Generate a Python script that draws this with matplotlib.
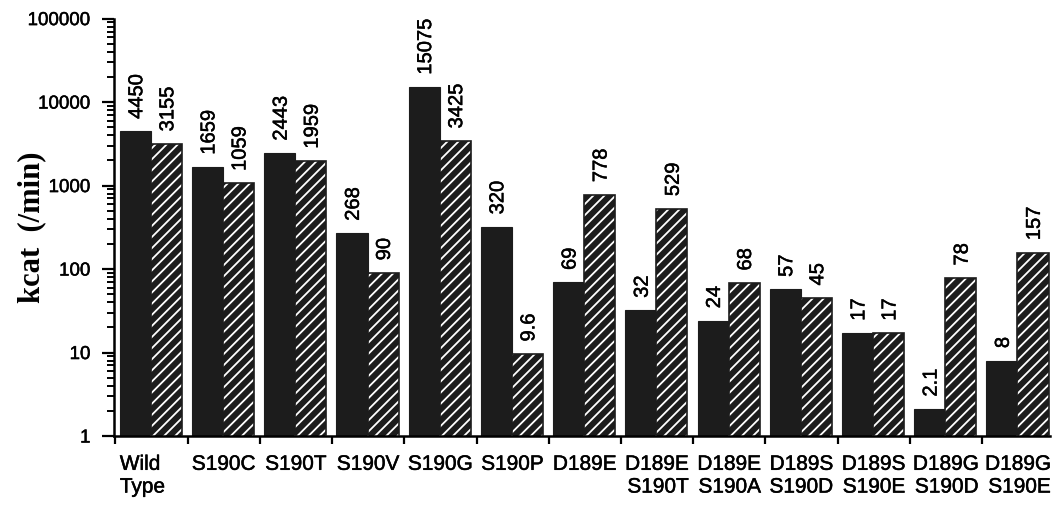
import matplotlib
matplotlib.use("Agg")
import matplotlib.pyplot as plt
import matplotlib.patheffects as pe
import numpy as np
from matplotlib.ticker import LogLocator, FixedLocator, NullFormatter

# Enzyme variants and turnover numbers (kcat, per minute)
variants = ["Wild\nType", "S190C", "S190T", "S190V", "S190G", "S190P", "D189E",
            "D189E\nS190T", "D189E\nS190A", "D189S\nS190D", "D189S\nS190E",
            "D189G\nS190D", "D189G\nS190E"]
kcat_solid = [4450, 1659, 2443, 268, 15075, 320, 69, 32, 24, 57, 17, 2.1, 8]
kcat_hatched = [3155, 1059, 1959, 90, 3425, 9.6, 778, 529, 68, 45, 17, 78, 157]
solid_labels = ["4450", "1659", "2443", "268", "15075", "320", "69", "32", "24",
                "57", "17", "2.1", "8"]
hatched_labels = ["3155", "1059", "1959", "90", "3425", "9.6", "778", "529", "68",
                  "45", "17", "78", "157"]

plt.rcParams['font.family'] = ['Liberation Sans', 'DejaVu Sans']
plt.rcParams['hatch.linewidth'] = 1.3

dark = "#1c1c1c"
heavy = [pe.withStroke(linewidth=0.35, foreground="black")]

fig = plt.figure(figsize=(10.58, 5.16), dpi=100)
ax = fig.add_axes([0.1078, 0.155, 0.8846, 0.809])

n = len(variants)
idx = np.arange(n)
w = 0.43
x_solid = idx + 0.06 + w / 2
x_hatch = idx + 0.06 + w + w / 2

ax.bar(x_solid, kcat_solid, width=w, color=dark, edgecolor=dark, linewidth=0.8,
       zorder=2)
# hatched bars: white hatch over dark fill, then a dark outline on top
ax.bar(x_hatch, kcat_hatched, width=w, color=dark, edgecolor="white",
       linewidth=0, hatch="///", zorder=2)
ax.bar(x_hatch, kcat_hatched, width=w, fill=False, edgecolor=dark,
       linewidth=1.2, zorder=3)

for xs, v, s in zip(x_solid, kcat_solid, solid_labels):
    ax.annotate(s, (xs, v), xytext=(1, 9), textcoords="offset points",
                rotation=90, ha="center", va="bottom", fontsize=14.5,
                path_effects=heavy)
for xs, v, s in zip(x_hatch, kcat_hatched, hatched_labels):
    ax.annotate(s, (xs, v), xytext=(1, 9), textcoords="offset points",
                rotation=90, ha="center", va="bottom", fontsize=14.5,
                path_effects=heavy)

ax.set_yscale("log")
ax.set_ylim(1, 100000)
ax.set_xlim(-0.02, 12.94)
ax.set_yticks([1, 10, 100, 1000, 10000, 100000])
ax.set_yticklabels(["1", "10", "100", "1000", "10000", "100000"], fontsize=13.5)
for lbl in ax.get_yticklabels():
    lbl.set_path_effects(heavy)
ax.yaxis.set_minor_locator(LogLocator(base=10, subs=np.arange(2, 10)))
ax.yaxis.set_minor_formatter(NullFormatter())

ax.xaxis.set_major_locator(FixedLocator(idx))
ax.set_xticklabels([])
ax.tick_params(axis="x", which="major", direction="out", length=6, width=1.6)
ax.tick_params(axis="y", which="major", direction="out", length=9, width=1.6, pad=8)
ax.tick_params(axis="y", which="minor", direction="out", length=5, width=1.4)

for i, name in enumerate(variants):
    align = "left" if i == 0 else "right"
    xpos = i + 0.06 if i == 0 else i + 0.5
    ha = "left" if i == 0 else "center"
    ax.text(xpos, -0.045, name, transform=ax.get_xaxis_transform(),
            ha=ha, va="top", multialignment=align, fontsize=15, linespacing=1.25,
            path_effects=heavy)

for side in ["top", "right"]:
    ax.spines[side].set_visible(False)
for side in ["left", "bottom"]:
    ax.spines[side].set_linewidth(1.8)

fig.text(0.03, 0.56, "kcat  (/min)", rotation=90, ha="center", va="center",
         fontsize=22, fontweight="bold", family="Liberation Serif")

fig.savefig("out.png", dpi=100, facecolor="white")
